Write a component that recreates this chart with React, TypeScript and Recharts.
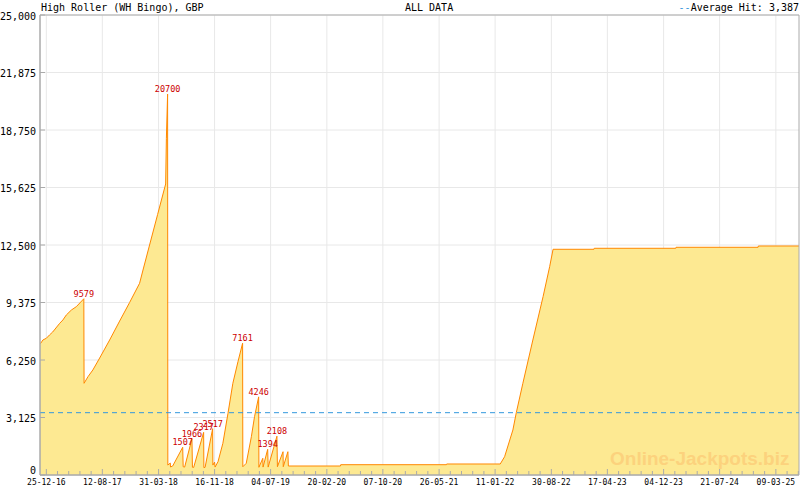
import React from 'react';
import {
  ComposedChart,
  Area,
  XAxis,
  YAxis,
  CartesianGrid,
  ReferenceLine,
  ReferenceArea,
  LabelList,
} from 'recharts';

const DAY = 86400000;

// jackpot size readings (date, GBP)
const dates = [
  '2016-11-29', '2016-12-02', '2016-12-11', '2016-12-25', '2017-01-07', '2017-01-20',
  '2017-02-18', '2017-03-03', '2017-03-17', '2017-04-07', '2017-04-27', '2017-05-28',
  '2017-05-29', '2017-06-14', '2017-07-04', '2017-08-01', '2017-09-11', '2017-10-22',
  '2017-12-02', '2018-01-12', '2018-01-26', '2018-02-22', '2018-03-27', '2018-04-29',
  '2018-05-02', '2018-05-07', '2018-05-08', '2018-05-18', '2018-05-19', '2018-05-28',
  '2018-07-08', '2018-07-10', '2018-07-16', '2018-08-15', '2018-08-17', '2018-08-22',
  '2018-10-02', '2018-10-03', '2018-10-08', '2018-11-08', '2018-11-09', '2018-11-16',
  '2018-11-18', '2018-11-30', '2018-12-20', '2019-01-10', '2019-01-30', '2019-02-20',
  '2019-03-11', '2019-03-12', '2019-03-26', '2019-04-16', '2019-04-29', '2019-05-16',
  '2019-05-17', '2019-06-02', '2019-06-03', '2019-06-22', '2019-06-24', '2019-07-30',
  '2019-08-01', '2019-08-24', '2019-08-25', '2019-09-13', '2019-09-15', '2020-04-16',
  '2020-04-17', '2021-06-25', '2021-06-26', '2022-02-01', '2022-02-19', '2022-03-25',
  '2022-04-08', '2022-05-05', '2022-06-15', '2022-07-27', '2022-08-23', '2022-09-06',
  '2023-02-21', '2023-02-22', '2024-01-23', '2024-01-24', '2024-12-26', '2024-12-27',
  '2025-06-12',
];
const values = [
  7150, 7160, 7340, 7430, 7610, 7770,
  8245, 8424, 8696, 8968, 9147, 9579,
  4984, 5343, 5707, 6357, 7337, 8367,
  9375, 10419, 11142, 12500, 14158, 15816,
  18300, 20700, 540, 650, 435, 490,
  1507, 450, 430, 1966, 420, 410,
  2317, 400, 420, 2517, 540, 700,
  430, 723, 1723, 3353, 4984, 6158,
  7161, 450, 636, 2082, 3169, 4246,
  420, 908, 430, 1394, 430, 2108,
  450, 1266, 450, 1266, 489, 489,
  560, 560, 598, 598, 995, 2446,
  3386, 4984, 7337, 9691, 11321, 12267,
  12267, 12321, 12321, 12376, 12376, 12446,
  12446,
];
const peakLabels = [9579, 20700, 1507, 1966, 2317, 2517, 7161, 4246, 1394, 2108];

const xTickDates = [
  '2016-12-25', '2017-08-12', '2018-03-31', '2018-11-16', '2019-07-04', '2020-02-20', '2020-10-07',
  '2021-05-26', '2022-01-11', '2022-08-30', '2023-04-17', '2023-12-04', '2024-07-21', '2025-03-09',
];
const yTicks = [0, 3125, 6250, 9375, 12500, 15625, 18750, 21875, 25000];
const averageHit = 3387;
const domainStart = '2016-11-29';
const domainEnd = '2025-06-12';

const toDay = (s: string) => {
  const [y, m, d] = s.split('-').map(Number);
  return Date.UTC(y, m - 1, d) / DAY;
};

const data = dates.map((d, i) => ({
  t: toDay(d),
  v: values[i],
  peak: peakLabels.includes(values[i]) ? values[i] : undefined,
}));

const majorTicks = xTickDates.map(toDay);
// four minor ticks between each labelled tick
const allTicks: number[] = [];
const step = (majorTicks[majorTicks.length - 1] - majorTicks[0]) / (majorTicks.length - 1);
majorTicks.forEach((m, i) => {
  const next = i < majorTicks.length - 1 ? majorTicks[i + 1] : m + step;
  for (let k = 0; k < 5; k++) {
    const t = m + ((next - m) * k) / 5;
    if (t <= toDay(domainEnd)) allTicks.push(t);
  }
});

const MONO = '"DejaVu Sans Mono", monospace';

const fmtDate = (t: number) => {
  const d = new Date(t * DAY);
  const p = (n: number) => String(n).padStart(2, '0');
  return `${p(d.getUTCDate())}-${p(d.getUTCMonth() + 1)}-${p(d.getUTCFullYear() % 100)}`;
};

const XTick = (props: any) => {
  const { x, y, payload } = props;
  const major = majorTicks.includes(payload.value);
  return (
    <g>
      <line x1={x} x2={x} y1={y} y2={y - (major ? 6 : 4)} stroke="#aaa" />
      {major && (
        <text x={x} y={y + 10} textAnchor="middle" fontSize={8} fontFamily={MONO} fill="#000">
          {fmtDate(payload.value)}
        </text>
      )}
    </g>
  );
};

const YTick = (props: any) => {
  const { x, y, payload } = props;
  // the zero label sits just above the x axis labels
  const dy = payload.value === 0 ? -1 : 4.5;
  return (
    <g>
      <line x1={x + 4} x2={x + 9} y1={y} y2={y} stroke="#aaa" />
      <text x={x} y={y + dy} textAnchor="end" fontSize={10} fontFamily={MONO} fill="#000">
        {payload.value.toLocaleString('en-US')}
      </text>
    </g>
  );
};

const renderPeak = (props: any) => {
  const { x, y, value } = props;
  if (value == null) return null;
  return (
    <text x={x} y={y - 2} textAnchor="middle" fontSize={8.5} fontFamily={MONO} fill="#cc0000">
      {value}
    </text>
  );
};

export default function App() {
  return (
    <div style={{ position: 'absolute', left: 0, top: 0, width: 800, height: 490, background: '#fff' }}>
      <ComposedChart width={800} height={490} data={data} margin={{ top: 15, right: 1, left: 0, bottom: 0 }}>
        <CartesianGrid stroke="#e8e8e8" verticalValues={majorTicks} horizontalValues={yTicks} />
        <XAxis
          type="number"
          dataKey="t"
          domain={[toDay(domainStart), toDay(domainEnd)]}
          allowDataOverflow
          ticks={allTicks}
          interval={0}
          tick={<XTick />}
          tickLine={false}
          tickSize={0}
          tickMargin={0}
          height={15}
          axisLine={{ stroke: '#aaa' }}
        />
        <YAxis
          type="number"
          domain={[0, 25000]}
          ticks={yTicks}
          interval={0}
          tick={<YTick />}
          tickLine={false}
          tickSize={0}
          tickMargin={4}
          width={40}
          axisLine={{ stroke: '#aaa' }}
        />
        <Area
          type="linear"
          dataKey="v"
          stroke="#ff8800"
          strokeWidth={1}
          fill="#fde992"
          fillOpacity={1}
          dot={false}
          activeDot={false}
          isAnimationActive={false}
        >
          <LabelList dataKey="peak" content={renderPeak} />
        </Area>
        <ReferenceLine y={averageHit} stroke="#3399dd" strokeDasharray="5 4" />
        <ReferenceArea
          x1={toDay(domainStart)}
          x2={toDay(domainEnd)}
          y1={0}
          y2={25000}
          fill="none"
          stroke="#aaa"
        />
      </ComposedChart>
      <svg width={800} height={490} style={{ position: 'absolute', left: 0, top: 0, pointerEvents: 'none' }}>
        <text x={41} y={11} fontSize={10} fontFamily={MONO} fill="#000">High Roller (WH Bingo), GBP</text>
        <text x={405} y={11} fontSize={10} fontFamily={MONO} fill="#000">ALL DATA</text>
        <text x={799} y={11} fontSize={10} fontFamily={MONO} textAnchor="end" fill="#000">
          <tspan fill="#3399dd">--</tspan>Average Hit: 3,387
        </text>
        <text x={610} y={465} fontSize={19} fontWeight="bold" fontFamily='"Liberation Sans", Arial, sans-serif' fill="#fcd27d">
          Online-Jackpots.biz
        </text>
      </svg>
    </div>
  );
}
